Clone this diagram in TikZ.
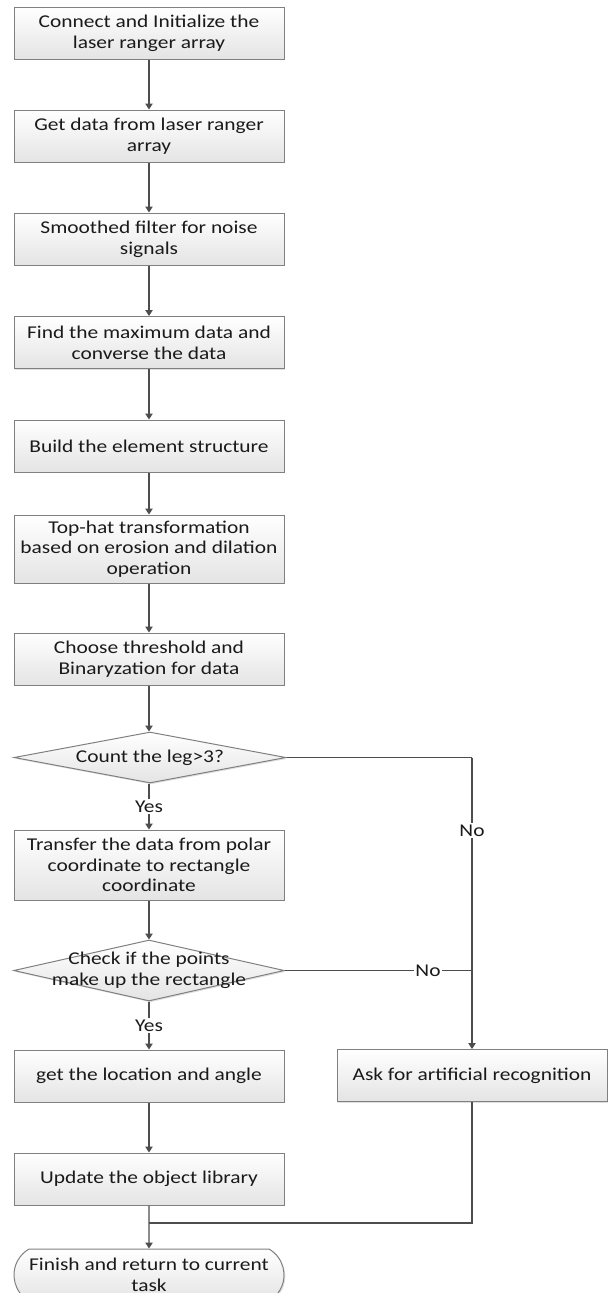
\documentclass[tikz,border=0pt]{standalone}
\usepackage{fontspec}
\setmainfont{Carlito}[FakeStretch=1.19]
\usetikzlibrary{shapes.geometric,shapes.misc,arrows.meta,shadows}
\definecolor{boxline}{HTML}{808080}
\definecolor{boxbot}{HTML}{E4E4E4}
\definecolor{arrowc}{HTML}{4D4D4D}
\definecolor{txt}{HTML}{1A1A1A}
\begin{document}
\begin{tikzpicture}[x=0.75pt,y=-0.75pt,
  every node/.style={font=\fontsize{13.5}{15.6}\selectfont, text=txt},
  boxbase/.style={draw=boxline, line width=0.75pt, top color=white, bottom color=boxbot,
    align=center, inner sep=0pt,
    drop shadow={shadow xshift=1pt, shadow yshift=-1pt, opacity=0.25, fill=gray}},
  proc/.style={boxbase, rectangle, minimum width=202.5pt, minimum height=39pt},
  dec/.style={boxbase, diamond, minimum width=204pt, minimum height=38.25pt},
  term/.style={boxbase, rounded rectangle, rounded rectangle arc length=120,
    minimum width=202.5pt, minimum height=39pt},
  arr/.style={draw=arrowc, line width=1.1pt, -{Triangle[length=4.5pt,width=5.5pt]}},
  conn/.style={draw=arrowc, line width=1.1pt},
  lbl/.style={fill=white, inner sep=1pt},
  dtext/.style={align=center, inner sep=0pt}
]
\useasboundingbox (0,0) rectangle (613,1293);
\node[proc] (b1) at (149,33) {Connect and Initialize the\\laser ranger array};
\node[proc] (b2) at (149,136) {Get data from laser ranger\\array};
\node[proc] (b3) at (149,239) {Smoothed filter for noise\\signals};
\node[proc] (b4) at (149,342.5) {Find the maximum data and\\converse the data};
\node[proc] (b5) at (149,446) {Build the element structure};
\node[proc, minimum height=51pt] (b6) at (149,549) {Top-hat transformation\\based on erosion and dilation\\operation};
\node[proc] (b7) at (149,659) {Choose threshold and\\Binaryzation for data};
\node[dec] (d1) at (150,757.5) {};
\node[dtext] (d1t) at (d1) {Count the leg>3?};
\node[proc, minimum height=52.5pt] (b8) at (149,865) {Transfer the data from polar\\coordinate to rectangle\\coordinate};
\node[dec, minimum height=45.75pt, minimum width=203pt] (d2) at (149,970.5) {};
\node[dtext] (d2t) at (d2) {Check if the points\\make up the rectangle};
\node[proc] (b9) at (149,1076) {get the location and angle};
\node[proc] (b10) at (149,1179) {Update the object library};
\node[proc] (b11) at (472,1075.5) {Ask for artificial recognition};
\node[term] (t) at (149,1275) {Finish and return to current\\task};
\coordinate (r1) at (472,757.5);
\coordinate (j) at (149,1223);

\draw[arr] (b1) -- (b2);
\draw[arr] (b2) -- (b3);
\draw[arr] (b3) -- (b4);
\draw[arr] (b4) -- (b5);
\draw[arr] (b5) -- (b6);
\draw[arr] (b6) -- (b7);
\draw[arr] (b7.south) -- (b7.south |- d1.north);
\draw[arr] (d1.south -| b8.north) -- node[lbl]{Yes} (b8.north);
\draw[arr] (b8) -- (d2);
\draw[arr] (d2) -- node[lbl]{Yes} (b9);
\draw[arr] (b9) -- (b10);
\draw[arr] (b10) -- (t);
\draw[conn] (d1.east) -- (r1);
\draw[arr] (r1) -- node[lbl, pos=0.25]{No} (b11.north);
\draw[conn] (d2.east) -- node[lbl, pos=0.765]{No} (d2.east -| b11.north);
\draw[conn] (b11.south) |- (j);
\end{tikzpicture}
\end{document}
